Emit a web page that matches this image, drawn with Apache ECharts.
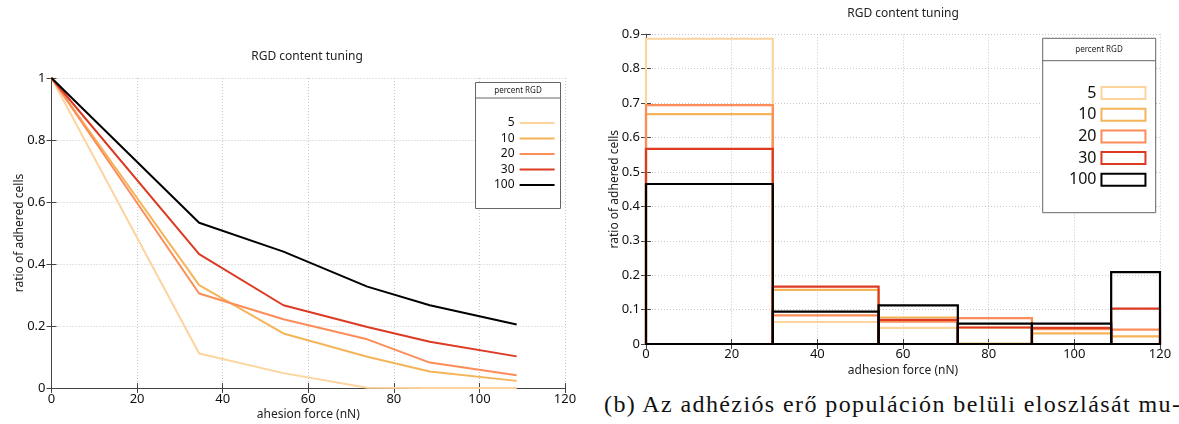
<!DOCTYPE html>
<html>
<head>
<meta charset="utf-8">
<script src="https://cdn.jsdelivr.net/npm/echarts@6/dist/echarts.min.js"></script>
<style>
  html, body { margin: 0; padding: 0; background: #fff; }
  #left { position: absolute; left: 0; top: 0; width: 590px; height: 424px; }
  #right { position: absolute; left: 590px; top: 0; width: 589px; height: 380px; }
  #caption {
    position: absolute; left: 604px; top: 391px; white-space: nowrap;
    font-family: "Liberation Serif", serif; font-size: 24px; letter-spacing: 1.4px; color: #111;
  }
</style>
</head>
<body>
<div id="left"></div>
<div id="right"></div>
<div id="caption">(b) Az adhéziós erő populáción belüli eloszlását mu-</div>
<script>
// series names (percent RGD) and colours
const groups = ["5", "10", "20", "30", "100"];
const colors = ["#fdd49e", "#f6b459", "#fc8d59", "#dc3a22", "#000000"];

// left chart: remaining ratio of adhered cells vs force
const forces = [0, 34.5, 54.2, 73.8, 88.4, 108.7];
const ratio5 = [1, 0.111, 0.048, 0.001, 0, 0];
const ratio10 = [1, 0.332, 0.176, 0.101, 0.053, 0.023];
const ratio20 = [1, 0.305, 0.222, 0.157, 0.082, 0.041];
const ratio30 = [1, 0.432, 0.267, 0.197, 0.149, 0.102];
const ratio100 = [1, 0.533, 0.44, 0.327, 0.267, 0.205];

// right chart: histogram bins (edges) and ratio per bin
const binEdges = [0, 29.6, 54.3, 72.8, 90.1, 108.6, 120];
const hist5 = [0.887, 0.064, 0.047, 0.002, 0, 0];
const hist10 = [0.668, 0.157, 0.077, 0.048, 0.031, 0.022];
const hist20 = [0.694, 0.083, 0.065, 0.075, 0.043, 0.042];
const hist30 = [0.567, 0.167, 0.07, 0.048, 0.047, 0.103];
const hist100 = [0.465, 0.094, 0.112, 0.059, 0.059, 0.209];

const ratios = [ratio5, ratio10, ratio20, ratio30, ratio100];
const hists = [hist5, hist10, hist20, hist30, hist100];

const font = "Noto Sans";
const gridLine = { show: true, lineStyle: { color: "#c8c8c8", type: [1, 2], width: 1 } };
const frame = { show: true, lineStyle: { color: "#444", width: 1 } };
const tick = { show: true, inside: true, length: 5, lineStyle: { color: "#444" } };
const tickLabel = { color: "#111", fontFamily: font, fontSize: 13 };
const nameStyle = { fontFamily: font, fontSize: 12, color: "#222" };

function mirrorAxis(type, position, min, max, interval) {
  return {
    type: type, position: position, min: min, max: max, interval: interval,
    axisLine: frame, axisTick: tick, axisLabel: { show: false }, splitLine: { show: false },
  };
}

function legendBox(x, y, w, h, headH, cx) {
  return [
    { type: "rect", z: 5, shape: { x: x, y: y, width: w, height: h },
      style: { fill: "#fff", stroke: "#666", lineWidth: 1 } },
    { type: "line", z: 6, shape: { x1: x, y1: y + headH, x2: x + w, y2: y + headH },
      style: { stroke: "#666", lineWidth: 1 } },
    { type: "text", z: 6, x: cx, y: y + headH / 2,
      style: { text: "percent RGD", fill: "#222", font: "8px 'Noto Sans'", align: "center", verticalAlign: "middle" } },
  ];
}

// ---------- left: line chart ----------
const leftChart = echarts.init(document.getElementById("left"));
leftChart.setOption({
  animation: false,
  backgroundColor: "#fff",
  title: {
    text: "RGD content tuning", left: 307, top: 51, textAlign: "center", padding: 0,
    textStyle: { fontFamily: font, fontSize: 12, fontWeight: "normal", color: "#222" },
  },
  grid: { left: 51.5, top: 78, width: 513.5, height: 310, outerBoundsMode: "none" },
  xAxis: [
    {
      type: "value", min: 0, max: 120, interval: 20,
      name: "ahesion force (nN)", nameLocation: "middle", nameGap: 21, nameMoveOverlap: false,
      nameTextStyle: nameStyle,
      axisLine: frame, axisTick: tick, axisLabel: { ...tickLabel, margin: 5 }, splitLine: gridLine,
    },
    mirrorAxis("value", "top", 0, 120, 20),
  ],
  yAxis: [
    {
      type: "value", min: 0, max: 1, interval: 0.2,
      name: "ratio of adhered cells", nameLocation: "middle", nameGap: 26, nameMoveOverlap: false,
      nameTextStyle: nameStyle,
      axisLine: frame, axisTick: tick, axisLabel: { ...tickLabel, margin: 6 }, splitLine: gridLine,
    },
    mirrorAxis("value", "right", 0, 1, 0.2),
  ],
  legend: {
    orient: "vertical", align: "right", left: 494, top: 117, padding: 0,
    itemWidth: 35, itemHeight: 14, itemGap: 3.5, z: 10,
    itemStyle: { opacity: 0 },
    textStyle: { fontFamily: font, fontSize: 12, color: "#111" },
    data: groups,
  },
  graphic: legendBox(475.5, 82.5, 85, 126, 15.5, 518),
  series: groups.map((g, i) => ({
    name: g, type: "line", symbol: "none", z: 3,
    lineStyle: { color: colors[i], width: 2 },
    itemStyle: { color: colors[i] },
    data: forces.map((f, k) => [f, ratios[i][k]]),
  })),
});

// ---------- right: histogram outlines ----------
function renderBin(params, api) {
  const x0 = api.value(0), x1 = api.value(1), y = api.value(2);
  const p0 = api.coord([x0, y]);
  const p1 = api.coord([x1, 0]);
  return {
    type: "rect",
    shape: { x: p0[0], y: p0[1], width: p1[0] - p0[0], height: p1[1] - p0[1] },
    style: { fill: "none", stroke: api.visual("color"), lineWidth: 2.2 },
  };
}

const rightChart = echarts.init(document.getElementById("right"));
rightChart.setOption({
  animation: false,
  backgroundColor: "#fff",
  title: {
    text: "RGD content tuning", left: 313, top: 8, textAlign: "center", padding: 0,
    textStyle: { fontFamily: font, fontSize: 12, fontWeight: "normal", color: "#222" },
  },
  grid: { left: 56, top: 34.3, width: 514, height: 309.7, outerBoundsMode: "none" },
  xAxis: [
    {
      type: "value", min: 0, max: 120, interval: 20,
      name: "adhesion force (nN)", nameLocation: "middle", nameGap: 21, nameMoveOverlap: false,
      nameTextStyle: nameStyle,
      axisLine: frame, axisTick: tick, axisLabel: { ...tickLabel, margin: 4 }, splitLine: gridLine,
    },
    mirrorAxis("value", "top", 0, 120, 20),
  ],
  yAxis: [
    {
      type: "value", min: 0, max: 0.9, interval: 0.1,
      name: "ratio of adhered cells", nameLocation: "middle", nameGap: 25, nameMoveOverlap: false,
      nameTextStyle: nameStyle,
      axisLine: frame, axisTick: tick, axisLabel: { ...tickLabel, margin: 6 }, splitLine: gridLine,
    },
    mirrorAxis("value", "right", 0, 0.9, 0.1),
  ],
  legend: {
    orient: "vertical", align: "right", left: 479, top: 85, padding: 0,
    itemWidth: 44, itemHeight: 12, itemGap: 5.7, z: 10,
    textStyle: { fontFamily: font, fontSize: 16, color: "#111" },
    data: groups.map((g, i) => ({
      name: g, icon: "rect",
      itemStyle: { color: "rgba(255,255,255,0)", borderColor: colors[i], borderWidth: 2 },
    })),
  },
  graphic: legendBox(452.7, 38.3, 113, 174.4, 22.4, 509),
  series: groups.map((g, i) => ({
    name: g, type: "custom", z: 3,
    renderItem: renderBin,
    itemStyle: { color: colors[i] },
    encode: { x: [0, 1], y: 2 },
    data: hists[i].map((v, k) => [binEdges[k], binEdges[k + 1], v]),
  })),
});
</script>
</body>
</html>
